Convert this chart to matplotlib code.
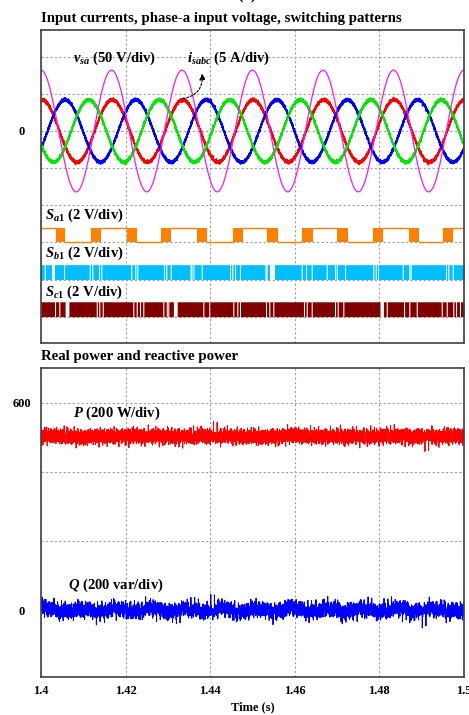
import matplotlib.pyplot as plt
import numpy as np

plt.rcParams['font.family'] = 'Liberation Serif'
plt.rcParams['font.weight'] = 'bold'
plt.rcParams['mathtext.fontset'] = 'custom'
plt.rcParams['mathtext.rm'] = 'Liberation Serif:bold'
plt.rcParams['mathtext.it'] = 'Liberation Serif:italic:bold'
plt.rcParams['mathtext.bf'] = 'Liberation Serif:bold'

# time window of the capture
t_start, t_stop = 1.4, 1.5
x_ticks = [1.4, 1.42, 1.44, 1.46, 1.48, 1.5]
x_tick_labels = ['1.4', '1.42', '1.44', '1.46', '1.48', '1.5']

# supply side: phase-a voltage and the three input currents
f_line = 60.0
vsa_peak = 82.0              # V
vsa_phase = 0.0              # deg
volts_per_div = 50.0
i_peak = 4.2                 # A
i_phase = [-4.0, -124.0, -244.0]   # phases a, b, c in deg
i_colors = ['#ff0000', '#0000ff', '#00e600']
amps_per_div = 5.0
i_ripple = 0.045             # A per ripple tone

# switching ripple tones riding on the measured traces
ripple_freq = [1270, 2130, 3370, 4490, 5710, 6830, 7930, 9410, 10570, 11870,
               13630, 15110, 17290, 19730]
ripple_weight = [0.6, 0.9, 1.1, 0.7, 0.8, 1.0, 1.2, 1.0, 0.7, 0.9,
                 1.1, 0.8, 0.8, 0.6]
ripple_phase = [15, 0, 40, 120, 95, 200, 170, 230, 60, 280,
                310, 140, 350, 20]

# Sa1: dense switching intervals (ms after 1.4 s), level toggles after each one
sa1_blocks = [(3.55, 5.67), (11.82, 14.18), (20.33, 22.70), (28.37, 30.73),
              (36.88, 39.24), (45.39, 47.75), (53.43, 56.03), (61.70, 64.30),
              (69.98, 72.58), (78.49, 80.85), (87.00, 89.36), (95.04, 97.40)]

# Sb1 / Sc1: mostly on, off notches (ms after 1.4 s) and notch widths (ms)
sb1_gaps = [0.87, 2.84, 5.44, 11.51, 12.13, 13.71, 14.26, 21.35, 22.29, 22.77,
            29.08, 29.62, 30.66, 35.46, 36.05, 37.99, 44.68, 45.22, 45.86, 47.04,
            53.19, 54.61, 61.63, 62.65, 64.00, 67.54, 69.50, 69.91, 71.87, 78.56,
            79.13, 79.67, 85.51, 87.07, 87.40, 95.74, 96.29, 97.33]
sb1_widths = [0.25, 0.7, 0.25, 0.25, 0.25, 0.25, 0.25, 0.25, 0.25, 0.25,
              0.25, 0.25, 0.25, 0.45, 0.25, 0.25, 0.25, 0.25, 0.25, 0.25,
              0.5, 1.2, 0.25, 0.25, 0.25, 0.25, 0.25, 0.25, 0.25, 0.25,
              0.25, 0.25, 0.25, 0.25, 0.25, 0.25, 0.25, 0.25]
sc1_gaps = [3.31, 4.33, 6.15, 13.17, 13.78, 14.59, 21.82, 22.62, 23.40, 24.18,
            28.91, 29.72, 30.09, 31.75, 38.37, 39.79, 45.46, 46.41, 47.04, 53.19,
            53.97, 54.92, 62.17, 62.81, 63.99, 69.50, 70.14, 71.47, 80.54, 81.73,
            85.82, 87.07, 88.82, 94.73, 95.91, 97.47, 98.11, 99.05]
sc1_widths = [0.25, 0.25, 0.9, 0.25, 0.25, 0.25, 0.25, 0.25, 0.25, 0.25,
              0.25, 0.25, 0.25, 0.9, 0.25, 0.25, 0.25, 0.25, 0.25, 0.25,
              0.25, 0.25, 0.25, 0.25, 0.25, 0.25, 0.25, 0.25, 0.8, 0.25,
              0.25, 0.25, 0.25, 0.25, 0.25, 0.25, 0.25, 0.25]
sw_offset = [-3.0, -4.0, -5.0]     # div
sw_height = 0.4                    # div
sw_colors = ['#ff8000', '#00bfff', '#800000']

# power
p_mean = 503.0     # W
q_mean = 0.0       # var
pq_ripple = 4.6    # per ripple tone
q_slow_freq = [120, 360, 1050]
q_slow_amp = [5.0, 3.0, 5.0]


def ripple(t, amp, shift):
    out = np.zeros_like(t)
    for f, w, ph in zip(ripple_freq, ripple_weight, ripple_phase):
        out += w * np.sin(2 * np.pi * f * t + np.deg2rad(ph + shift * f / 97.0))
    return amp * out


t = np.arange(t_start, t_stop + 5e-6, 1e-5)
ms = (t - t_start) * 1e3
w = 2 * np.pi * f_line

fig = plt.figure(figsize=(4.69, 7.15), dpi=100)
ax1 = fig.add_axes([41 / 469, 1 - 343 / 715, 423 / 469, 313 / 715])
ax2 = fig.add_axes([41 / 469, 1 - 677 / 715, 423 / 469, 309 / 715])

# ---- top: currents, voltage, gate signals ----
for k, (ph, c) in enumerate(zip(i_phase, i_colors)):
    ia = i_peak * np.cos(w * t + np.deg2rad(ph)) + ripple(t, i_ripple, 13 * (k + 1))
    ax1.plot(t, ia / amps_per_div, color=c, lw=1.2)
vsa = vsa_peak * np.cos(w * t + np.deg2rad(vsa_phase))
ax1.plot(t, vsa / volts_per_div, color='#f01ef0', lw=0.9)

# Sa1
lo, hi = sw_offset[0], sw_offset[0] + sw_height
level = np.full_like(t, hi)
state = hi
prev = 0.0
for a, b in sa1_blocks:
    level[(ms >= prev) & (ms < a)] = state
    state = lo if state == hi else hi
    prev = b
level[ms >= prev] = state
edges = [0.0] + [x for blk in sa1_blocks for x in blk] + [100.0]
for i in range(0, len(edges), 2):
    seg = (ms >= edges[i]) & (ms <= edges[i + 1])
    ax1.plot(t[seg], level[seg], color=sw_colors[0], lw=1.0)
for a, b in sa1_blocks:
    ax1.fill_between([t_start + a / 1e3, t_start + b / 1e3], lo, hi,
                     color=sw_colors[0], lw=0)

# Sb1, Sc1
for k, gaps, widths in [(1, sb1_gaps, sb1_widths), (2, sc1_gaps, sc1_widths)]:
    lo, hi = sw_offset[k], sw_offset[k] + sw_height
    sig = np.full_like(t, hi)
    for g, gw in zip(gaps, widths):
        sig[(ms >= g - gw / 2) & (ms < g + gw / 2)] = lo
    ax1.fill_between(t, lo, sig, color=sw_colors[k], lw=0, step='post')

ax1.set_xlim(t_start, t_stop)
ax1.set_ylim(-5.71, 2.72)
ax1.set_yticks(range(-5, 3))
ax1.set_yticklabels(['0' if v == 0 else '' for v in range(-5, 3)])
ax1.set_xticks(x_ticks)
ax1.set_xticklabels([])

ax1.text(1.40757, 1.97, r'$v_{sa}$ (50 V/div)', fontsize=10.5, va='center')
ax1.text(1.43452, 1.97, r'$i_{sabc}$ (5 A/div)', fontsize=10.5, va='center')
ax1.annotate('', xy=(1.43806, 1.55), xytext=(1.43357, 0.87),
             arrowprops=dict(arrowstyle='-|>', color='k', lw=0.8, ls=(0, (2, 1.5)),
                             connectionstyle='arc3,rad=0.45', mutation_scale=9,
                             shrinkA=0, shrinkB=0))
ax1.text(1.40095, -2.26, r'$S_{a1}$ (2 V/div)', fontsize=10.5, va='center')
ax1.text(1.40095, -3.29, r'$S_{b1}$ (2 V/div)', fontsize=10.5, va='center')
ax1.text(1.40095, -4.34, r'$S_{c1}$ (2 V/div)', fontsize=10.5, va='center')
ax1.set_title('Input currents, phase-a input voltage, switching patterns',
              loc='left', fontsize=10.7, fontweight='bold', pad=6)

# ---- bottom: real and reactive power ----
p = p_mean + ripple(t, pq_ripple, 7)
q = q_mean + ripple(t, pq_ripple, 29)
for f, a in zip(q_slow_freq, q_slow_amp):
    q = q + a * np.sin(2 * np.pi * f * t + 0.7)
ax2.plot(t, p, color='#ff0000', lw=0.7)
ax2.plot(t, q, color='#0000ff', lw=0.7)

ax2.set_xlim(t_start, t_stop)
ax2.set_ylim(-194, 701)
ax2.set_yticks([0, 200, 400, 600])
ax2.set_yticklabels(['0', '', '', '600'])
ax2.set_xticks(x_ticks)
ax2.set_xticklabels(x_tick_labels)
ax2.set_xlabel('Time (s)', fontsize=9, fontweight='bold', labelpad=2.5)
ax2.text(1.40757, 571, r'$P$ (200 W/div)', fontsize=10.5, va='center')
ax2.text(1.40638, 72, r'$Q$ (200 var/div)', fontsize=10.5, va='center')
ax2.set_title('Real power and reactive power', loc='left', fontsize=10.7,
              fontweight='bold', pad=6)

for ax in (ax1, ax2):
    ax.set_axisbelow(True)
    ax.grid(True, ls=(0, (2, 2)), color='#a0a0a0', lw=0.8)
    ax.tick_params(length=0, labelsize=9)
    ax.tick_params(axis='y', pad=13.7)
    ax.tick_params(axis='x', pad=6)
    for lab in ax.get_yticklabels():
        lab.set_horizontalalignment('center')
    for s in ax.spines.values():
        s.set_color('#404040')
        s.set_linewidth(1.2)

fig.text(247 / 469, 1 - 3 / 715, '(a)', ha='center', va='bottom', fontsize=12)

fig.savefig('out.png', dpi=100)
